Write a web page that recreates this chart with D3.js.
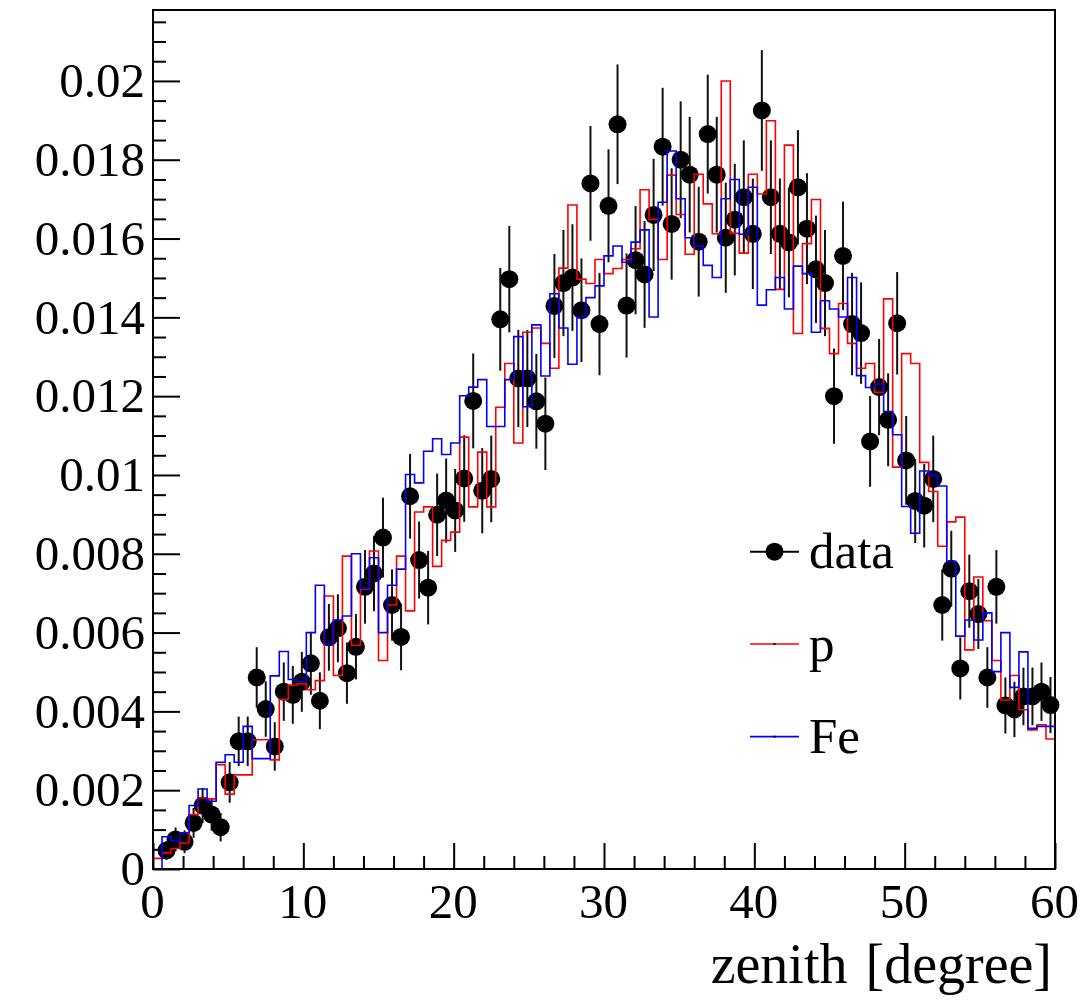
<!DOCTYPE html>
<html>
<head>
<meta charset="utf-8">
<script src="https://cdn.jsdelivr.net/npm/d3@7"></script>
<style>
  html, body { margin: 0; padding: 0; background: #fff; }
  svg { display: block; }
  text { font-family: "Liberation Serif", "Times New Roman", serif; fill: #000; }
</style>
</head>
<body>
<svg id="chart" width="1081" height="1005"></svg>
<script>
// ---------------- data ----------------
const binEdgesMin = 0, binEdgesMax = 60, nBins = 100;

// normalized data (bin 0 empty)
const dataValues = [
  null, 0.00047, 0.00075, 0.00069, 0.00117, 0.00161, 0.00138, 0.00106, 0.0022, 0.00324,
  0.00324, 0.00486, 0.00406, 0.00311, 0.0045, 0.00442, 0.00475, 0.00522, 0.00427, 0.00588,
  0.00611, 0.00497, 0.00564, 0.00716, 0.0075, 0.00841, 0.0067, 0.00589, 0.00946, 0.00784,
  0.00714, 0.00899, 0.00935, 0.0091, 0.00991, 0.01188, 0.0096, 0.0099, 0.01395, 0.01497,
  0.01245, 0.01245, 0.01187, 0.0113, 0.01429, 0.01487, 0.01501, 0.01418, 0.0174, 0.01383,
  0.01683, 0.0189, 0.0143, 0.01545, 0.01509, 0.0166, 0.01833, 0.01637, 0.018, 0.01762,
  0.01592, 0.01865, 0.01762, 0.01602, 0.01648, 0.01705, 0.01612, 0.01925, 0.01705, 0.01612,
  0.0159, 0.0173, 0.01625, 0.01522, 0.01487, 0.012, 0.01556, 0.01383, 0.0136, 0.01085,
  0.01223, 0.0114, 0.01385, 0.01037, 0.00934, 0.00922, 0.0099, 0.0067, 0.00762, 0.00509,
  0.00705, 0.00647, 0.00486, 0.00716, 0.00415, 0.00405, 0.00438, 0.00438, 0.0045, 0.00416
];
// number of data events (error = sqrt(N_bin)/N_total)
const dataEvents = 8200;

const pValues = [
  0.00027, 0.00041, 0.00052, 0.00066, 0.00138, 0.0018, 0.00178, 0.00265, 0.0019, 0.00239,
  0.00239, 0.00328, 0.00328, 0.00277, 0.0043, 0.00467, 0.0047, 0.00455, 0.00478, 0.00693,
  0.00491, 0.00794, 0.00568, 0.0071, 0.00807, 0.00529, 0.0067, 0.00794, 0.00655, 0.00906,
  0.00919, 0.00768, 0.00834, 0.00855, 0.01096, 0.00919, 0.01058, 0.00919, 0.01172, 0.01283,
  0.01081, 0.01362, 0.01373, 0.01334, 0.01271, 0.01525, 0.01685, 0.01497, 0.01486, 0.01547,
  0.01511, 0.01524, 0.01547, 0.01574, 0.01724, 0.01649, 0.01547, 0.01761, 0.01661, 0.0156,
  0.01763, 0.01688, 0.01612, 0.0200, 0.01613, 0.01563, 0.01763, 0.01713, 0.01899, 0.01471,
  0.01837, 0.01359, 0.01587, 0.01699, 0.01372, 0.01308, 0.01435, 0.01334, 0.01271, 0.01283,
  0.0121, 0.01447, 0.0102, 0.01308, 0.01283, 0.01032, 0.00958, 0.00819, 0.00881, 0.00893,
  0.00556, 0.00741, 0.0063, 0.00529, 0.00429, 0.00491, 0.00404, 0.00353, 0.00366, 0.0033
];

const feValues = [
  0, 0.00082, 0.00071, 0.00092, 0.00161, 0.00203, 0.00172, 0.00271, 0.0029, 0.00271,
  0.00362, 0.0028, 0.0028, 0.0049, 0.00552, 0.00481, 0.00476, 0.006, 0.0072, 0.0057,
  0.00632, 0.00642, 0.008, 0.00712, 0.0079, 0.006, 0.0072, 0.00761, 0.01001, 0.0098,
  0.0106, 0.01092, 0.01052, 0.01081, 0.01201, 0.01223, 0.01242, 0.01123, 0.01123, 0.01242,
  0.01351, 0.01173, 0.01381, 0.01251, 0.0146, 0.01373, 0.01281, 0.01401, 0.0145, 0.0148,
  0.01556, 0.01581, 0.0154, 0.01591, 0.01622, 0.01401, 0.01692, 0.01822, 0.01701, 0.01602,
  0.01581, 0.01532, 0.01501, 0.01701, 0.0175, 0.01611, 0.0173, 0.01431, 0.0147, 0.01501,
  0.01421, 0.0153, 0.01511, 0.01362, 0.01442, 0.01421, 0.01401, 0.01501, 0.01252, 0.01222,
  0.01231, 0.01161, 0.01102, 0.0092, 0.00852, 0.0101, 0.00999, 0.00972, 0.00781, 0.00591,
  0.00632, 0.00581, 0.0065, 0.00501, 0.006, 0.00461, 0.00551, 0.00357, 0.00362, 0.00362
];

const xTickValues = [0, 10, 20, 30, 40, 50, 60];
const xTickLabels = ["0", "10", "20", "30", "40", "50", "60"];
const yTickValues = [0, 0.002, 0.004, 0.006, 0.008, 0.01, 0.012, 0.014, 0.016, 0.018, 0.02];
const yTickLabels = ["0", "0.002", "0.004", "0.006", "0.008", "0.01", "0.012", "0.014", "0.016", "0.018", "0.02"];
const legendLabels = ["data", "p", "Fe"];
const xTitle = "zenith [degree]";
const yMax = 0.0218;

// ---------------- layout ----------------
const svg = d3.select("#chart");
const L = 153, R = 1055, T = 10, B = 869;
const x = d3.scaleLinear().domain([binEdgesMin, binEdgesMax]).range([L, R]);
const y = d3.scaleLinear().domain([0, yMax]).range([B, T]);
const binW = (binEdgesMax - binEdgesMin) / nBins;

// axes
const xMinor = d3.range(0, 60.001, 2).filter(v => v % 10 !== 0);
const yMinor = d3.range(0, yMax, 0.0005).filter(v => Math.abs(v / 0.002 - Math.round(v / 0.002)) > 1e-6);

const gx = svg.append("g").attr("transform", `translate(0,${B})`);
gx.call(d3.axisBottom(x).tickValues(xMinor).tickSize(-13).tickFormat(""));
gx.call(g => g.select(".domain").remove());
const gx2 = svg.append("g").attr("transform", `translate(0,${B})`);
gx2.call(d3.axisBottom(x).tickValues(xTickValues).tickSize(-26).tickPadding(14)
  .tickFormat((d, i) => xTickLabels[i]));
gx2.select(".domain").remove();
gx2.selectAll("text").style("font-size", "49px").attr("font-family", null).attr("dx", "-1");

const gy = svg.append("g").attr("transform", `translate(${L},0)`);
gy.call(d3.axisLeft(y).tickValues(yMinor).tickSize(-13).tickFormat(""));
gy.select(".domain").remove();
const gy2 = svg.append("g").attr("transform", `translate(${L},0)`);
gy2.call(d3.axisLeft(y).tickValues(yTickValues).tickSize(-27).tickPadding(8)
  .tickFormat((d, i) => yTickLabels[i]));
gy2.select(".domain").remove();
gy2.selectAll("text").style("font-size", "49px").attr("font-family", null);
svg.selectAll(".tick line").attr("stroke", "#000").attr("stroke-width", 2);
svg.selectAll(".tick text").attr("fill", "#000");

// ---------------- data points ----------------
const pts = dataValues.map((v, i) => ({ c: binEdgesMin + (i + 0.5) * binW, v })).filter(d => d.v !== null);
const gd = svg.append("g");
gd.selectAll("line.err").data(pts).join("line")
  .attr("class", "err")
  .attr("x1", d => x(d.c)).attr("x2", d => x(d.c))
  .attr("y1", d => y(d.v + Math.sqrt(d.v / dataEvents)))
  .attr("y2", d => y(Math.max(0, d.v - Math.sqrt(d.v / dataEvents))))
  .attr("stroke", "#111").attr("stroke-width", 2);
gd.selectAll("circle").data(pts).join("circle")
  .attr("cx", d => x(d.c)).attr("cy", d => y(d.v)).attr("r", 9).attr("fill", "#000");

// ---------------- histograms ----------------
function histPts(vals) {
  const a = vals.map((v, i) => ({ e: binEdgesMin + i * binW, v }));
  a.push({ e: binEdgesMax, v: vals[vals.length - 1] });
  return a;
}
const stepLine = d3.line().x(d => x(d.e)).y(d => y(d.v)).curve(d3.curveStepAfter);
svg.append("path").attr("d", stepLine(histPts(pValues)))
  .attr("fill", "none").attr("stroke", "#ff0000").attr("stroke-width", 1.6);
svg.append("path").attr("d", stepLine(histPts(feValues)))
  .attr("fill", "none").attr("stroke", "#0000ff").attr("stroke-width", 1.6);

// ---------------- frame ----------------
svg.append("rect").attr("x", L).attr("y", T).attr("width", R - L).attr("height", B - T)
  .attr("fill", "none").attr("stroke", "#000").attr("stroke-width", 2);

// ---------------- legend ----------------
const legY = [551.7, 644, 736.7];
const legColors = ["#000", "#ff0000", "#0000ff"];
const lg = svg.append("g");
legendLabels.forEach((lab, i) => {
  const yy = legY[i];
  lg.append("line").attr("x1", 750).attr("x2", 799).attr("y1", yy).attr("y2", yy)
    .attr("stroke", legColors[i]).attr("stroke-width", i === 0 ? 2 : 1.7);
  if (i === 0) {
    lg.append("circle").attr("cx", 774.5).attr("cy", yy).attr("r", 9).attr("fill", "#000");
  } else {
    lg.append("rect").attr("x", 773.5).attr("y", yy - 1).attr("width", 2).attr("height", 2).attr("fill", "#000");
  }
  lg.append("text").attr("x", 809).attr("y", yy + 16.5).style("font-size", "51px").text(lab);
});

// ---------------- axis title ----------------
svg.append("text").attr("x", 1052).attr("y", 983).attr("text-anchor", "end")
  .style("font-size", "56px").style("word-spacing", "4px").text(xTitle);
</script>
</body>
</html>
